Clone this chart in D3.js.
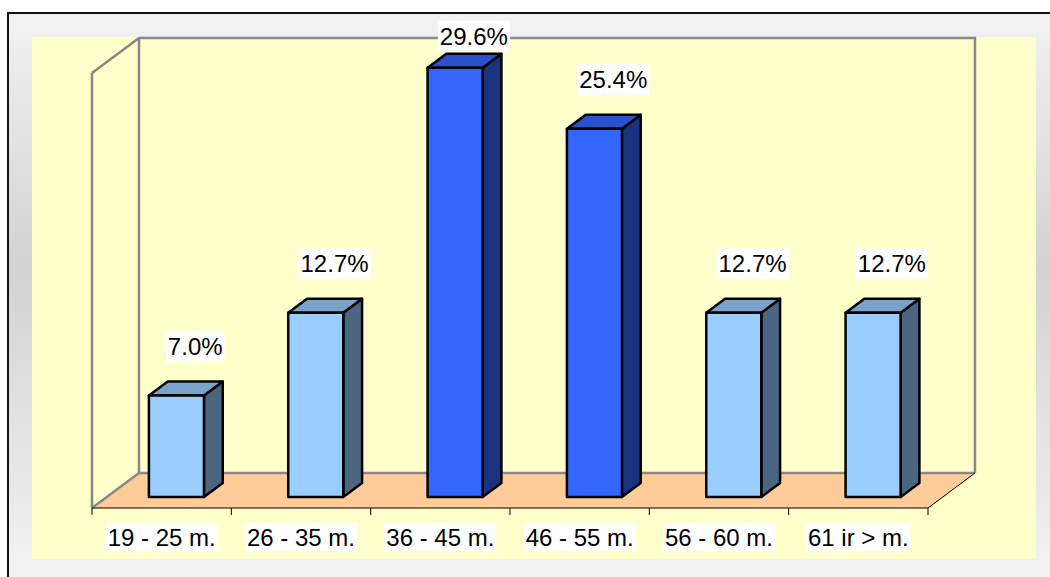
<!DOCTYPE html>
<html>
<head>
<meta charset="utf-8">
<script src="https://cdn.jsdelivr.net/npm/d3@7"></script>
<style>
  html, body { margin: 0; padding: 0; background: #fff; }
  svg { display: block; }
  text { font-family: Arial, "Liberation Sans", sans-serif; }
</style>
</head>
<body>
<svg id="chart" width="1050" height="577"></svg>
<script>
// chart data
var categories = ['19 - 25 m.', '26 - 35 m.', '36 - 45 m.', '46 - 55 m.', '56 - 60 m.', '61 ir > m.'];
var values = [7.0, 12.7, 29.6, 25.4, 12.7, 12.7];
var highlighted = [false, false, true, true, false, false];
var valueLabels = ['7.0%', '12.7%', '29.6%', '25.4%', '12.7%', '12.7%'];
var axisMax = 30;

var svg = d3.select('#chart');

// layout of the fake 3d box
var front = { left: 92, right: 928, base: 508 };
var depth = { dx: 47, dy: -35 };
var barDepth = { d1: 0.314, d2: 0.714 };

var x = d3.scaleBand()
  .domain(categories)
  .range([front.left, front.right])
  .paddingInner(0.605)
  .paddingOuter(0.3025);

var y = d3.scaleLinear()
  .domain([0, axisMax])
  .range([0, 435]);

// project a point (x in front plane, value, depth fraction) to the screen
function proj(px, v, d) {
  return [px + depth.dx * d, front.base - y(v) + depth.dy * d];
}
function poly(points) {
  return 'M' + points.map(function(p) { return p[0] + ',' + p[1]; }).join('L') + 'Z';
}

// background
var defs = svg.append('defs');
var grad = defs.append('linearGradient')
  .attr('id', 'bg').attr('x1', 0).attr('y1', 0).attr('x2', 0).attr('y2', 1);
grad.append('stop').attr('offset', '0%').attr('stop-color', '#f2f2f2');
grad.append('stop').attr('offset', '45%').attr('stop-color', '#d2d2d2');
grad.append('stop').attr('offset', '100%').attr('stop-color', '#f2f2f2');

svg.append('rect').attr('width', 1050).attr('height', 577).attr('fill', '#fff');
svg.append('rect')
  .attr('x', 8).attr('y', 13).attr('width', 1042).attr('height', 564)
  .attr('fill', 'url(#bg)');
svg.append('path')
  .attr('d', 'M8,577V13H1050')
  .attr('fill', 'none').attr('stroke', '#111').attr('stroke-width', 2);

// plot area
svg.append('rect')
  .attr('x', 32).attr('y', 37).attr('width', 1004).attr('height', 522)
  .attr('fill', '#ffffcc');

// floor
svg.append('path')
  .attr('d', poly([proj(front.left, 0, 0), proj(front.right, 0, 0), proj(front.right, 0, 1), proj(front.left, 0, 1)]))
  .attr('fill', '#ffcc99');

// walls (outline only)
var wallColor = '#888';
var wall = svg.append('g').attr('fill', 'none').attr('stroke', wallColor).attr('stroke-width', 2.5);
wall.append('path').attr('d', 'M' + proj(front.left, axisMax, 0) + 'L' + proj(front.left, 0, 0));
wall.append('path').attr('d', 'M' + proj(front.left, axisMax, 0) + 'L' + proj(front.left, axisMax, 1)
  + 'L' + proj(front.right, axisMax, 1) + 'L' + proj(front.right, 0, 1));
wall.append('path').attr('d', 'M' + proj(front.left, axisMax, 1) + 'L' + proj(front.left, 0, 1)
  + 'L' + proj(front.right, 0, 1));
wall.append('path').attr('d', 'M' + proj(front.left, 0, 0) + 'L' + proj(front.left, 0, 1));

// front axis line, right floor edge, ticks
var axis = svg.append('g').attr('stroke', '#000').attr('stroke-width', 1).attr('fill', 'none');
axis.append('path').attr('d', 'M' + proj(front.left, 0, 0) + 'L' + proj(front.right, 0, 0) + 'L' + proj(front.right, 0, 1));
var step = x.step();
d3.range(categories.length + 1).forEach(function(i) {
  var tx = front.left + i * step;
  axis.append('line').attr('x1', tx).attr('x2', tx).attr('y1', front.base).attr('y2', front.base + 7);
});

// bars
var colors = {
  light: { front: '#99ccff', top: '#7aa3cc', side: '#4d6680' },
  dark: { front: '#3366ff', top: '#2952cc', side: '#1a3380' }
};

var bars = svg.append('g').selectAll('g.bar')
  .data(categories.map(function(c, i) { return { cat: c, value: values[i], hi: highlighted[i], label: valueLabels[i] }; }))
  .enter().append('g').attr('class', 'bar')
  .attr('stroke', '#000').attr('stroke-width', 2.5).attr('stroke-linejoin', 'round');

bars.each(function(d) {
  var g = d3.select(this);
  var c = d.hi ? colors.dark : colors.light;
  var x0 = x(d.cat), x1 = x(d.cat) + x.bandwidth();
  var a = barDepth.d1, b = barDepth.d2;
  g.append('path').attr('fill', c.side)
    .attr('d', poly([proj(x1, 0, a), proj(x1, 0, b), proj(x1, d.value, b), proj(x1, d.value, a)]));
  g.append('path').attr('fill', c.top)
    .attr('d', poly([proj(x0, d.value, a), proj(x1, d.value, a), proj(x1, d.value, b), proj(x0, d.value, b)]));
  g.append('path').attr('fill', c.front)
    .attr('d', poly([proj(x0, 0, a), proj(x1, 0, a), proj(x1, d.value, a), proj(x0, d.value, a)]));
});

// value labels
var labelLayer = svg.append('g');
bars.data().forEach(function(d) {
  var cx = x(d.cat) + x.bandwidth() / 2 + depth.dx * barDepth.d2;
  var topY = proj(0, d.value, barDepth.d2)[1];
  var cy = Math.max(36, topY - 35);
  var g = labelLayer.append('g');
  var t = g.append('text')
    .attr('x', cx).attr('y', cy + 8.5)
    .attr('text-anchor', 'middle')
    .attr('font-size', 24)
    .attr('fill', '#000')
    .text(d.label);
  var bb = t.node().getBBox();
  g.insert('rect', 'text')
    .attr('x', bb.x - 2).attr('y', cy - 15.5)
    .attr('width', bb.width + 4).attr('height', 31)
    .attr('fill', '#fff');
});

// category labels
var catLayer = svg.append('g');
categories.forEach(function(c) {
  var cx = x(c) + x.bandwidth() / 2;
  var g = catLayer.append('g');
  var t = g.append('text')
    .attr('x', cx).attr('y', 545.5)
    .attr('text-anchor', 'middle')
    .attr('font-size', 24)
    .attr('fill', '#000')
    .text(c);
  var bb = t.node().getBBox();
  g.insert('rect', 'text')
    .attr('x', bb.x - 2).attr('y', 523)
    .attr('width', bb.width + 4).attr('height', 28)
    .attr('fill', '#fff');
});
</script>
</body>
</html>
